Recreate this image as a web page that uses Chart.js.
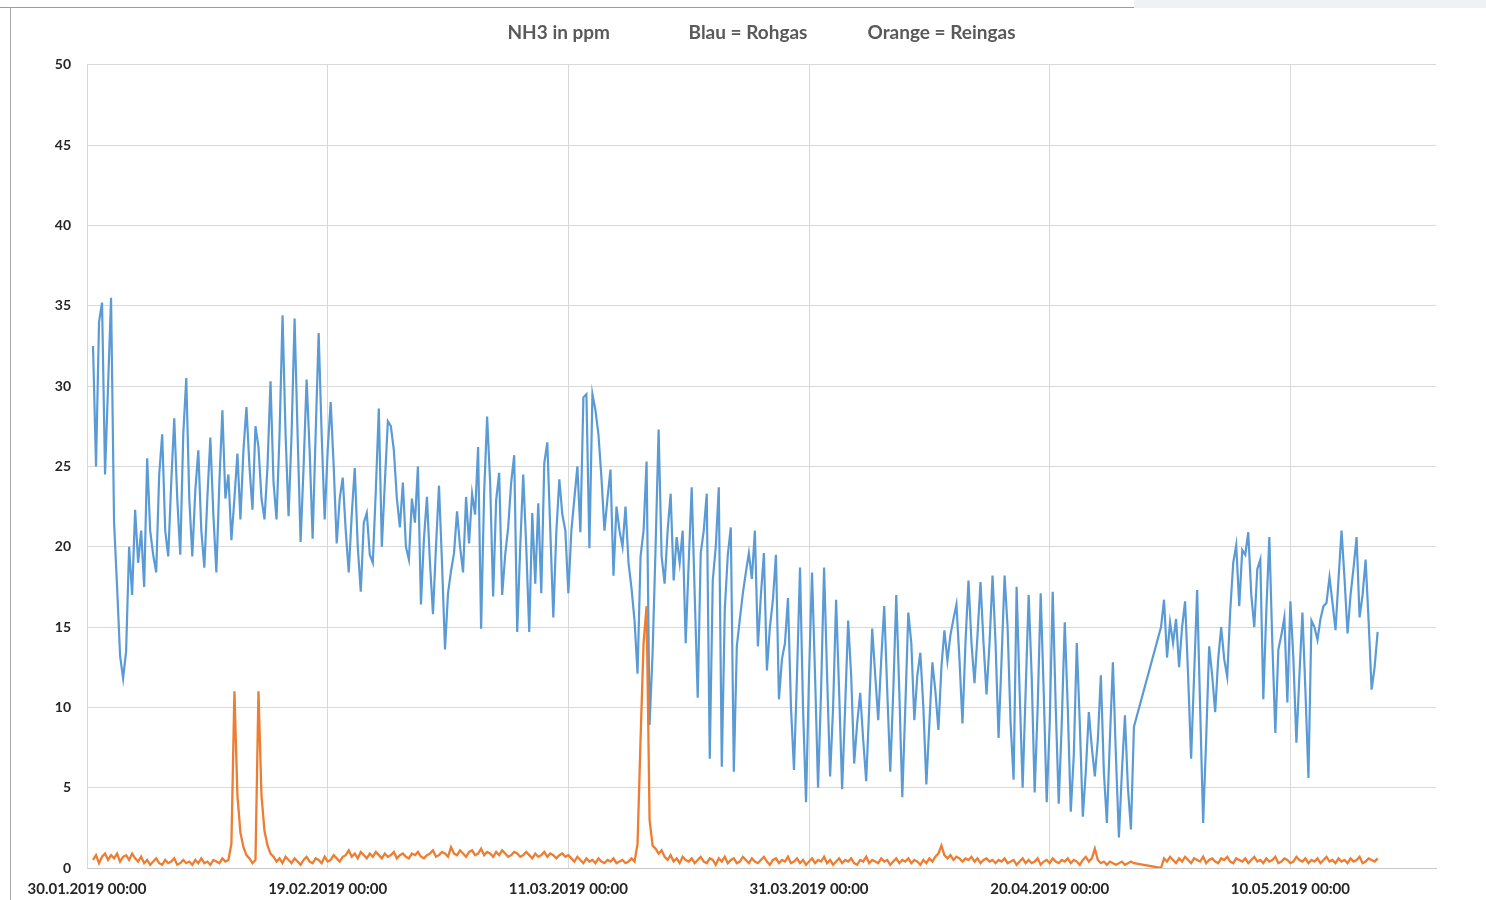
<!DOCTYPE html>
<html>
<head>
<meta charset="utf-8">
<script src="https://cdn.jsdelivr.net/npm/chart.js@4.4.1/dist/chart.umd.min.js"></script>
<style>
  html, body { margin: 0; padding: 0; background: #ffffff; }
  #wrap { position: relative; width: 1486px; height: 900px; overflow: hidden; }
  #frameTop { position: absolute; left: 0; top: 7px; width: 1134px; height: 0; border-top: 1px solid #9c9c9c; }
  #frameLeft { position: absolute; left: 10px; top: 7px; width: 0; height: 893px; border-left: 1px solid #a8a8a8; }
  #panel { position: absolute; left: 1134px; top: 0; width: 352px; height: 8px; background: #eef2f3; }
  #c { position: absolute; left: 0; top: 0; }
</style>
</head>
<body>
<div id="wrap">
  <div id="frameTop"></div>
  <div id="frameLeft"></div>
  <div id="panel"></div>
  <canvas id="c" width="1486" height="900"></canvas>
</div>
<script>
// ---- data ----
const startDay = 0.5;     // days after 30.01.2019 00:00 of the first sample
const stepDays = 0.25;    // sample spacing (6 h)

const tickLabels = ['30.01.2019 00:00', '19.02.2019 00:00', '11.03.2019 00:00',
                    '31.03.2019 00:00', '20.04.2019 00:00', '10.05.2019 00:00'];

const titleParts = ['NH3 in ppm', 'Blau = Rohgas', 'Orange = Reingas'];

// Blau = Rohgas
const rohgas = [
32.5,25,34,35.2,24.5,30,35.5,21.5,17.5,13.2,
11.8,13.5,20,17,22.3,19,21,17.5,25.5,21,
19.5,18.4,24.5,27,21,19.4,24,28,23,19.5,
27,30.5,23,19.4,23.5,26,21,18.7,23,26.8,
22,18.4,24,28.5,23,24.5,20.4,23,25.8,21.7,
26,28.7,25,22.3,27.5,26.2,23,21.7,25,30.3,
24,21.7,27,34.4,27,21.9,27,34.2,27,20.3,
25,30.4,26,20.5,27,33.3,27,21.7,26,29,
25,20.2,23,24.3,21,18.4,22,24.9,20,17.2,
21.5,22.1,19.5,19,23.5,28.6,20,24,27.8,27.5,
26,23,21.2,24,20,19.2,23,21.5,25,16.4,
20.5,23.1,19,15.8,20,23.8,19,13.6,17.1,18.5,
19.6,22.2,20,18.4,23.1,20.2,23.3,22,26.2,14.9,
23.3,28.1,24,16.9,22.9,24.6,17,19.5,21.2,24,
25.7,14.7,20,24.5,20,14.7,22.1,17.7,22.7,17.1,
25.2,26.5,21,15.6,20.9,24.2,22,21,17.1,21,
23,25,20.9,29.3,29.5,19.9,29.5,28.5,27,24.3,
21,23,24.8,18.2,22.5,21,20,22.5,19,17.4,
15.4,12.1,19.4,21,25.3,8.9,13.4,20,27.3,19.4,
17.7,21,23.3,17.9,20.6,19,21,14,19,23.7,
17,10.6,19.6,21,23.3,6.8,17.9,20,23.7,6.3,
16.1,19.5,21.2,6,13.8,15.5,17.1,18.4,19.6,18,
21,13.8,17,19.6,12.3,15,16.7,19.5,10.5,13,
14,16.8,10,6.1,12,18.7,10,4.1,12,18.4,
12,5,11,18.7,12,5.7,10,16.7,11,4.9,
10,15.4,12,6.5,9,10.9,8,5.4,10,14.9,
12,9.2,13,16.3,11,6,11,17,11,4.4,
10,15.9,14,9.2,12,13.4,10,5.2,9,12.8,
11,8.6,12.5,14.8,12.9,14.5,15.5,16.4,13,9,
14,17.9,14,11.5,14.5,17.8,14,10.8,14,18.2,
14,8.1,13,18.2,15,9,5.5,17.5,11,5,
11,17,12,4.7,10,17.1,11,4.1,9,17.2,
10,4,9,15.3,10,3.5,7,14,9,3.2,
6,9.7,7.5,5.7,8,12,6,2.8,8,12.8,
7,1.9,6,9.5,5,2.4,8.8,null,null,null,
null,null,null,null,null,15,16.7,13.1,15.3,14,
15.5,12.5,15,16.6,12,6.8,12,17.3,10,2.8,
8,13.8,12,9.7,13,15,13,11.9,16,19,
20.1,16.3,19.8,19.5,20.9,17,15,18.6,19.2,10.5,
16,20.6,14,8.4,13.6,14.5,15.6,10.3,16.6,13,
7.8,12,15.9,11,5.6,15.4,15,14.2,15.5,16.3,
16.5,18.1,16.5,14.8,18,21,18,14.6,17,18.7,
20.6,15.6,17,19.2,15.4,11.1,12.5,14.7
];

// Orange = Reingas
const reingas = [
0.5,0.8,0.3,0.7,0.9,0.5,0.8,0.6,0.9,0.4,
0.7,0.8,0.5,0.9,0.6,0.4,0.7,0.3,0.5,0.2,
0.4,0.6,0.3,0.2,0.5,0.3,0.4,0.6,0.2,0.3,
0.5,0.3,0.4,0.2,0.5,0.3,0.6,0.3,0.4,0.2,
0.5,0.4,0.3,0.6,0.4,0.5,1.5,11,4.5,2.2,
1.3,0.8,0.6,0.3,0.5,11,4.5,2.3,1.4,0.9,
0.7,0.4,0.6,0.3,0.7,0.5,0.3,0.6,0.4,0.2,
0.5,0.7,0.4,0.3,0.6,0.5,0.3,0.7,0.4,0.5,
0.8,0.6,0.4,0.7,0.8,1.1,0.7,0.9,0.6,1.0,
0.8,0.6,0.9,0.7,1.0,0.8,0.6,0.9,0.7,0.8,
1.0,0.6,0.8,0.9,0.7,0.6,0.9,0.8,1.0,0.7,
0.6,0.8,0.9,1.1,0.7,0.8,1.0,0.9,0.7,1.3,
0.9,0.8,1.1,0.9,0.7,1.0,1.1,0.8,0.9,1.2,
0.8,1.0,0.9,0.7,1.0,0.8,1.1,0.9,0.7,0.8,
1.0,0.9,0.7,0.8,1.0,0.8,0.6,0.9,0.7,0.8,
1.0,0.7,0.9,0.8,0.6,0.8,0.9,0.7,0.8,0.6,
0.4,0.7,0.5,0.3,0.6,0.4,0.5,0.3,0.6,0.4,
0.3,0.5,0.4,0.6,0.3,0.4,0.5,0.3,0.4,0.6,
0.4,1.5,8,14,16.3,3,1.4,1.2,0.9,1.1,
0.7,0.5,0.8,0.4,0.6,0.3,0.7,0.5,0.4,0.6,
0.3,0.5,0.7,0.4,0.3,0.6,0.5,0.2,0.6,0.4,
0.7,0.3,0.5,0.6,0.3,0.4,0.7,0.5,0.3,0.6,
0.4,0.3,0.5,0.7,0.4,0.2,0.5,0.6,0.3,0.5,
0.4,0.7,0.3,0.4,0.6,0.3,0.5,0.2,0.4,0.6,
0.3,0.5,0.4,0.7,0.3,0.5,0.2,0.4,0.6,0.3,
0.5,0.4,0.6,0.3,0.2,0.5,0.4,0.7,0.3,0.5,
0.4,0.3,0.6,0.4,0.5,0.2,0.4,0.6,0.3,0.5,
0.4,0.6,0.3,0.5,0.4,0.2,0.5,0.3,0.6,0.4,
0.7,0.9,1.4,0.8,0.6,0.8,0.5,0.7,0.6,0.4,
0.6,0.5,0.7,0.4,0.6,0.3,0.5,0.6,0.4,0.5,
0.3,0.5,0.4,0.6,0.3,0.4,0.5,0.2,0.4,0.6,
0.3,0.5,0.3,0.4,0.6,0.2,0.4,0.5,0.3,0.6,
0.4,0.3,0.5,0.4,0.6,0.3,0.5,0.4,0.2,0.5,
0.7,0.4,0.6,1.2,0.5,0.3,0.4,0.2,0.4,0.3,
0.2,0.3,0.4,0.2,0.3,0.4,0.3,null,null,null,
null,null,null,null,null,0,0.6,0.4,0.7,0.5,
0.3,0.6,0.4,0.7,0.5,0.3,0.6,0.5,0.4,0.7,
0.3,0.5,0.6,0.4,0.3,0.6,0.5,0.7,0.4,0.3,
0.6,0.5,0.4,0.6,0.3,0.5,0.7,0.4,0.5,0.3,
0.6,0.4,0.5,0.7,0.3,0.4,0.6,0.5,0.3,0.4,
0.7,0.5,0.4,0.6,0.3,0.5,0.4,0.6,0.3,0.5,
0.7,0.4,0.5,0.3,0.6,0.4,0.5,0.3,0.6,0.4,
0.5,0.7,0.3,0.4,0.6,0.5,0.4,0.6
];

// ---- chart ----
const toPoints = arr => arr.map((v, i) => ({ x: startDay + i * stepDays, y: v }));
const gap1 = ' '.repeat(17);
const gap2 = ' '.repeat(13);

const yTickFont = { family: 'Lato', size: 14, weight: 'bold' };
const xTickFont = { family: 'Lato', size: 15, weight: 'bold' };

new Chart(document.getElementById('c'), {
  type: 'line',
  data: {
    datasets: [
      { label: 'Reingas', data: toPoints(reingas), borderColor: '#ED7D31', borderWidth: 2.3,
        pointRadius: 0, tension: 0, spanGaps: true, order: 0 },
      { label: 'Rohgas', data: toPoints(rohgas), borderColor: '#5B9BD5', borderWidth: 2.2,
        pointRadius: 0, tension: 0, spanGaps: true, order: 1 }
    ]
  },
  options: {
    responsive: false,
    animation: false,
    devicePixelRatio: 1,
    layout: { padding: { left: 0, right: 50, top: 0, bottom: 0 } },
    plugins: {
      legend: { display: false },
      tooltip: { enabled: false },
      title: {
        display: true,
        fullSize: false,
        text: titleParts[0] + gap1 + titleParts[1] + gap2 + titleParts[2],
        color: '#595959',
        font: { family: 'Lato', size: 19, weight: 'bold' },
        padding: { top: 21, bottom: 21 }
      }
    },
    scales: {
      x: {
        type: 'linear',
        min: 0, max: 112.1,
        afterFit: s => { s.height = 32; },
        grid: { color: '#d9d9d9', lineWidth: 1, drawTicks: false },
        border: { color: '#c8c8c8' },
        ticks: {
          stepSize: 20, includeBounds: false, maxRotation: 0, autoSkip: false,
          padding: 12, color: '#262626', font: xTickFont,
          callback: v => tickLabels[Math.round(v / 20)]
        }
      },
      y: {
        min: 0, max: 50,
        afterFit: s => { s.width = 87; },
        grid: { color: '#d9d9d9', lineWidth: 1, drawTicks: false },
        border: { color: '#d9d9d9' },
        ticks: { stepSize: 5, padding: 16, color: '#262626', font: yTickFont }
      }
    }
  }
});
</script>
</body>
</html>
